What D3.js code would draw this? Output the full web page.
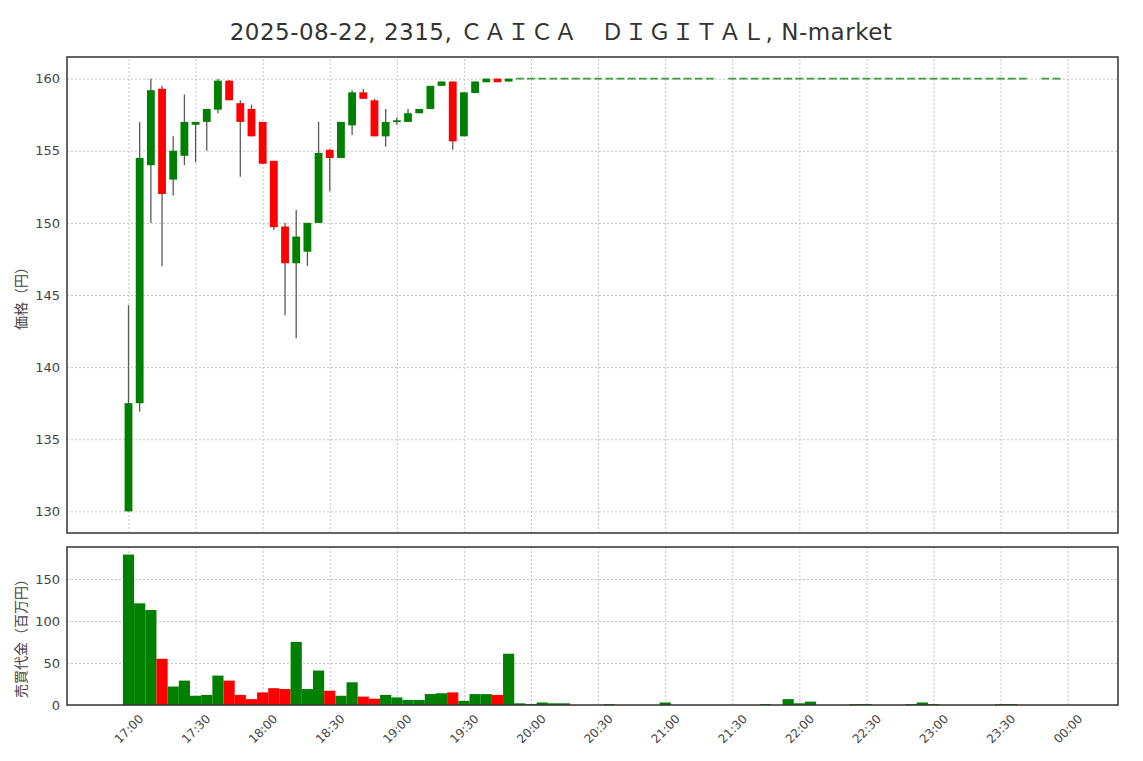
<!DOCTYPE html>
<html><head><meta charset="utf-8">
<script src="https://cdn.jsdelivr.net/npm/d3@7"></script>
<style>
body{margin:0;background:#fff}
svg{display:block}
text{font-family:"DejaVu Sans","Noto Sans CJK JP",sans-serif}
</style>
</head><body><svg id="c" width="1143" height="761"></svg>
<script>
const titleText = "2025-08-22, 2315, ＣＡＩＣＡ　ＤＩＧＩＴＡＬ, N-market";
const priceLabel = "価格（円）";
const volLabel = "売買代金（百万円）";

const times = [
"17:00","17:05","17:10","17:15","17:20","17:25","17:30","17:35","17:40","17:45","17:50","17:55",
"18:00","18:05","18:10","18:15","18:20","18:25","18:30","18:35","18:40","18:45","18:50","18:55",
"19:00","19:05","19:10","19:15","19:20","19:25","19:30","19:35","19:40","19:45","19:50","19:55",
"20:00","20:05","20:10","20:15","20:20","20:25","20:30","20:35","20:40","20:45","20:50","20:55",
"21:00","21:05","21:10","21:15","21:20","21:25","21:30","21:35","21:40","21:45","21:50","21:55",
"22:00","22:05","22:10","22:15","22:20","22:25","22:30","22:35","22:40","22:45","22:50","22:55",
"23:00","23:05","23:10","23:15","23:20","23:25","23:30","23:35","23:40","23:45","23:50","23:55"];

const openP = [
130,137.5,154,159.3,153,154.65,156.8,157,157.85,159.86,158.3,157.9,
157,154.3,149.75,147.2,148,150,155.07,154.5,156.76,159.05,158.5,156,
157,157,157.6,157.9,159.5,159.8,156,159,159.75,160,159.8,160,
160,160,160,160,160,160,160,160,160,160,160,160,
160,160,160,160,160,null,160,160,160,160,160,160,
160,160,160,160,160,160,160,160,160,160,160,160,
160,160,160,160,160,160,160,160,160,null,160,160];
const highP = [
144.3,157,160,159.5,156,158.9,157,157.9,160,159.9,158.5,158.2,
157,154.3,150,150.9,150,157,155.1,157,159.2,159.3,158.6,157.9,
157.3,157.9,157.9,159.5,159.8,159.8,159.05,159.8,160,160,160,160,
160,160,160,160,160,160,160,160,160,160,160,160,
160,160,160,160,160,null,160,160,160,160,160,160,
160,160,160,160,160,160,160,160,160,160,160,160,
160,160,160,160,160,160,160,160,160,null,160,160];
const lowP = [
130,136.9,150,147,151.9,154,154.2,155,157.6,158.5,153.2,156,
154.1,149.5,143.6,142,147,150,152.2,154.5,156.1,158.6,156,155.3,
156.8,157,157.6,157.9,159.5,155.07,156,159,159.75,159.75,159.8,160,
160,160,160,160,160,160,160,160,160,160,160,160,
160,160,160,160,160,null,160,160,160,160,160,160,
160,160,160,160,160,160,160,160,160,160,160,160,
160,160,160,160,160,160,160,160,160,null,160,160];
const closeP = [
137.5,154.5,159.2,152,155,157,157,157.9,159.86,158.5,157,156,
154.1,149.7,147.2,149.05,150,154.85,154.5,157,159.05,158.6,156,157,
157.05,157.6,157.9,159.5,159.8,155.65,159.05,159.8,160,159.75,160,160,
160,160,160,160,160,160,160,160,160,160,160,160,
160,160,160,160,160,null,160,160,160,160,160,160,
160,160,160,160,160,160,160,160,160,160,160,160,
160,160,160,160,160,160,160,160,160,null,160,160];
const volume = [
179,121,113,55,22,29,11,12,35,29,12,7,
15,20,19,75,19,41,17,11,27,10,7.5,12,
9,6,6,13,14,15,5,13,13,12,61,2,
1,3,2,2,0,0,0,1,0,0,0,0,
3,0,0,0,0,0,0,0,0,1,0,7,
2,4,0,0,0,1,1,0,0,0,1,3,
1,0,0,0,0,0,1,1,0,0,0,0];

const priceTicks = [130,135,140,145,150,155,160];
const volTicks = [0,50,100,150];
const xTickLabels = ["17:00","17:30","18:00","18:30","19:00","19:30","20:00","20:30",
"21:00","21:30","22:00","22:30","23:00","23:30","00:00"];

const UP = "#008000", DOWN = "#ff0000";
function toMin(s){ let [h,m]=s.split(":").map(Number); if(h<17) h+=24; return (h-17)*60+m; }

const svg = d3.select("#c");
const L=67, R=1118, pT=57, pB=533, vT=547, vB=705;

const x = d3.scaleLinear().domain([-27.5,442.5]).range([L,R]);
const yP = d3.scaleLinear().domain([128.5,161.5]).range([pB,pT]);
const yV = d3.scaleLinear().domain([0,188]).range([vB,vT]);

const slot = x(5)-x(0);
const cw = slot*0.7;

const data = times.map((t,i)=>({t:toMin(t),o:openP[i],h:highP[i],l:lowP[i],c:closeP[i],v:volume[i]}));

function gridStyle(g){
  g.select(".domain").remove();
  g.selectAll(".tick line").attr("stroke","#c4c4c4").attr("stroke-width",1).attr("stroke-dasharray","2,2");
}

const gy = svg.append("g").attr("transform",`translate(${L},0)`)
  .call(d3.axisLeft(yP).tickValues(priceTicks).tickSize(-(R-L)).tickPadding(7).tickFormat(d3.format("d")));
gridStyle(gy);
gy.selectAll(".tick text").attr("font-size",13).attr("fill","#444");

const gv = svg.append("g").attr("transform",`translate(${L},0)`)
  .call(d3.axisLeft(yV).tickValues(volTicks).tickSize(-(R-L)).tickPadding(7).tickFormat(d3.format("d")));
gridStyle(gv);
gv.selectAll(".tick text").attr("font-size",13).attr("fill","#444");

const xTickVals = xTickLabels.map(toMin);
const gxp = svg.append("g").attr("transform",`translate(0,${pB})`)
  .call(d3.axisBottom(x).tickValues(xTickVals).tickSize(-(pB-pT)).tickFormat(""));
gridStyle(gxp);
const gxv = svg.append("g").attr("transform",`translate(0,${vB})`)
  .call(d3.axisBottom(x).tickValues(xTickVals).tickSize(-(vB-vT)).tickFormat((d,i)=>xTickLabels[i]));
gridStyle(gxv);
gxv.selectAll(".tick text")
  .attr("font-size",12).attr("fill","#444")
  .attr("text-anchor","middle").attr("dy",null).attr("y",null)
  .attr("dominant-baseline","central")
  .attr("transform","translate(0,24) rotate(-45)");

// candles
const cd = data.filter(d=>d.o!=null);
svg.append("g").selectAll("line").data(cd.filter(d=>d.h>d.l)).join("line")
  .attr("x1",d=>x(d.t)).attr("x2",d=>x(d.t))
  .attr("y1",d=>yP(d.h)).attr("y2",d=>yP(d.l))
  .attr("stroke","#5a5a5a").attr("stroke-width",1.3);
svg.append("g").selectAll("rect").data(cd).join("rect")
  .attr("x",d=>x(d.t)-cw/2).attr("width",cw)
  .attr("y",d=>{const top=yP(Math.max(d.o,d.c)), hgt=yP(Math.min(d.o,d.c))-top; return hgt<1.8? top-0.9 : top;})
  .attr("height",d=>Math.max(1.8,yP(Math.min(d.o,d.c))-yP(Math.max(d.o,d.c))))
  .attr("fill",d=>d.c>=d.o?UP:DOWN)
  .attr("fill-opacity",d=>d.h===d.l?0.75:1);

// volume
svg.append("g").selectAll("rect").data(data.filter(d=>d.v>0)).join("rect")
  .attr("x",d=>x(d.t)-slot/2).attr("width",slot)
  .attr("y",d=>yV(d.v)).attr("height",d=>yV(0)-yV(d.v))
  .attr("fill",d=>(d.o==null||d.c>=d.o)?UP:DOWN);

// frames
svg.append("rect").attr("x",L).attr("y",pT).attr("width",R-L).attr("height",pB-pT)
  .attr("fill","none").attr("stroke","#333").attr("stroke-width",1.5);
svg.append("rect").attr("x",L).attr("y",vT).attr("width",R-L).attr("height",vB-vT)
  .attr("fill","none").attr("stroke","#333").attr("stroke-width",1.5);

// labels
svg.append("text").attr("x",561).attr("y",40).attr("text-anchor","middle")
  .attr("font-size",23).attr("letter-spacing",0.5).attr("fill","#333").text(titleText);
svg.append("text").attr("transform","translate(21,295) rotate(-90)").attr("text-anchor","middle")
  .attr("dominant-baseline","central").attr("font-size",14).attr("fill","#444").text(priceLabel);
svg.append("text").attr("transform","translate(21,635) rotate(-90)").attr("text-anchor","middle")
  .attr("dominant-baseline","central").attr("font-size",14).attr("fill","#444").text(volLabel);
</script>
</body></html>
